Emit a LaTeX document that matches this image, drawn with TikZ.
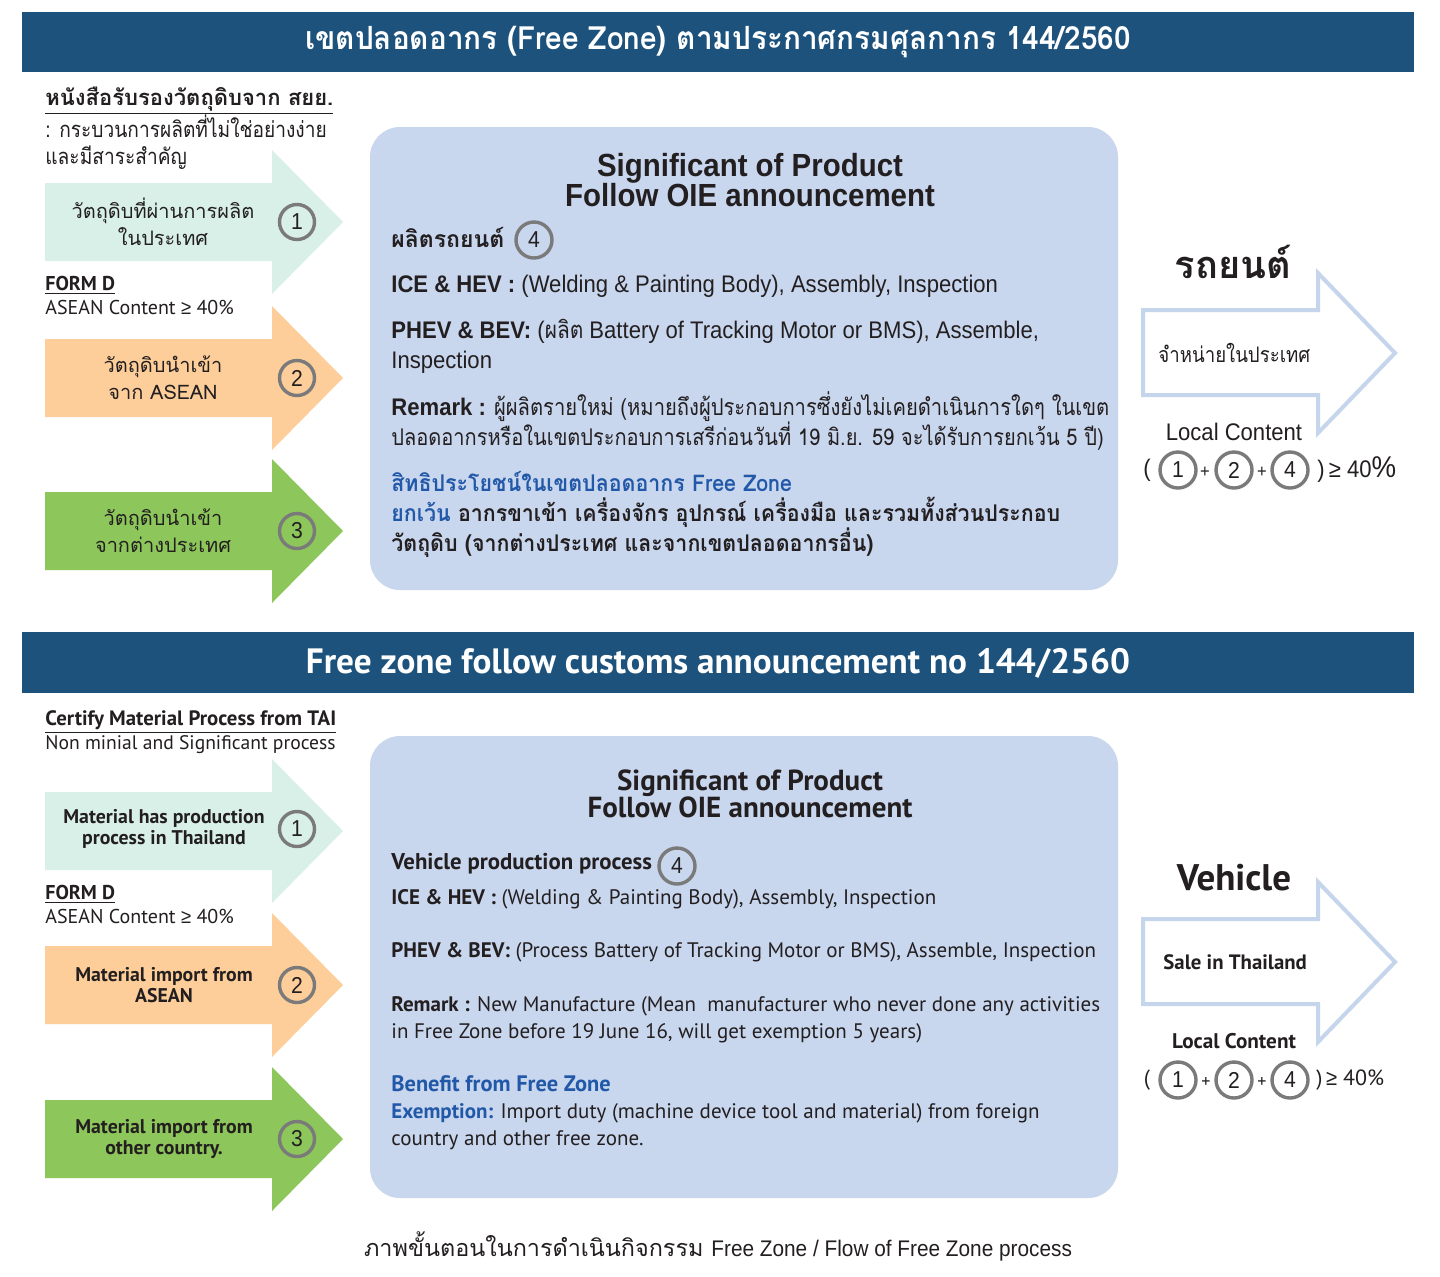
\documentclass[tikz,border=0pt]{standalone}
\usepackage{fontspec}
\setmainfont{Liberation Sans}
\newfontfamily\helv{Liberation Sans}[FakeStretch=0.92]
\newfontfamily\myri{PT Sans}
\newfontfamily\thai[Script=Thai, FakeStretch=0.87]{Loma}
\newfontfamily\thaib[Script=Thai, FakeStretch=0.93]{Loma}
\newfontfamily\thaiu[Script=Thai]{Loma}
\usepackage{xcolor}
\usetikzlibrary{positioning}

\definecolor{hdrblue}{HTML}{1C527C}
\definecolor{mint}{HTML}{D9F0E8}
\definecolor{peach}{HTML}{FDCE9A}
\definecolor{leaf}{HTML}{8DC65A}
\definecolor{boxblue}{HTML}{C8D6EE}
\definecolor{numgray}{HTML}{7A7A7A}
\definecolor{txtblue}{HTML}{2258A8}
\definecolor{outblue}{HTML}{C5D5EC}
\definecolor{ink}{HTML}{231F20}

\tikzset{
  hdrbar/.style={fill=hdrblue},
  hdrtext/.style={text=white, inner sep=0pt},
  numcirc/.style={circle, draw=numgray, line width=1.7pt, minimum size=17.5pt, inner sep=0pt,
    text=ink, font=\helv\fontsize{11.5}{12}\selectfont},
  txt/.style={anchor=base west, inner sep=0pt, text=ink},
  toptxt/.style={txt, font=\helv\fontsize{12}{14}\selectfont},
  bottxt/.style={txt, font=\myri\fontsize{10.5}{13}\selectfont},
  armtext/.style={align=center, inner sep=0pt, text=ink},
  outarrow/.style={draw=outblue, line width=2pt, fill=white}
}

\begin{document}
\begin{tikzpicture}[x=0.5pt, y=-0.5pt]
  \useasboundingbox (0,0) rectangle (1440,1276);
  \fill[white] (0,0) rectangle (1440,1276);

  % ----- Input arrows (both halves) -----
  \foreach \yc/\col in {222/mint, 378/peach, 531/leaf, 831/mint, 985/peach, 1139/leaf}
    \fill[\col] (45,\yc-39) -- (272,\yc-39) -- (272,\yc-72) -- (343,\yc)
      -- (272,\yc+72) -- (272,\yc+39) -- (45,\yc+39) -- cycle;

  % ----- Output arrows -----
  \draw[outarrow] (1143,310) -- (1318,310) -- (1318,273) -- (1395,353)
    -- (1318,433) -- (1318,395) -- (1143,395) -- cycle;
  \draw[outarrow] (1143,919) -- (1318,919) -- (1318,882) -- (1395,962)
    -- (1318,1042) -- (1318,1004) -- (1143,1004) -- cycle;

  % ----- Centre boxes -----
  \fill[boxblue, rounded corners=15pt] (370,127) rectangle (1118,590);
  \fill[boxblue, rounded corners=15pt] (370,736) rectangle (1118,1198);

  % ===== Top half: Thai =====
  \fill[hdrbar] (22,12) rectangle (1414,72);
  \node[hdrtext, font=\thaib\bfseries\fontsize{16}{18}\selectfont] (title1) at (718,42)
    {เขตปลอดอากร (Free Zone) ตามประกาศกรมศุลกากร 144/2560};

  \node[txt, font=\thaiu\bfseries\fontsize{11}{13}\selectfont] (cert1) at (45,105)
    {\underline{หนังสือรับรองวัตถุดิบจาก สยย.}};
  \node[txt, font=\thai\fontsize{11}{13}\selectfont] (cert1a) at (45,137) {: กระบวนการผลิตที่ไม่ใช่อย่างง่าย};
  \node[txt, font=\thai\fontsize{11}{13}\selectfont] (cert1b) at (45,164) {และมีสาระสำคัญ};

  \node[armtext, font=\thaiu\fontsize{10}{13.5}\selectfont] (in1) at (163,222) {วัตถุดิบที่ผ่านการผลิต\\ในประเทศ};
  \node[armtext, font=\thaiu\fontsize{10}{13.5}\selectfont] (in2) at (163,378) {วัตถุดิบนำเข้า\\จาก ASEAN};
  \node[armtext, font=\thaiu\fontsize{10}{13.5}\selectfont] (in3) at (163,531) {วัตถุดิบนำเข้า\\จากต่างประเทศ};
  \foreach \yc/\n in {222/1, 378/2, 531/3}
    \node[numcirc] (tn\n) at (297,\yc) {\n};

  \node[txt, font=\myri\bfseries\fontsize{10}{11}\selectfont] (formd1) at (45,290) {\underline{FORM D}};
  \node[txt, font=\myri\fontsize{10}{11}\selectfont] (asean1) at (45,314) {ASEAN Content {\helv ≥} 40\%};

  \node[align=center, inner sep=0pt, text=ink, font=\helv\bfseries\fontsize{16}{15}\selectfont] (sig1) at (750,180)
    {Significant of Product\\Follow OIE announcement};
  \node[txt, font=\thaiu\bfseries\fontsize{11.5}{14}\selectfont] (prod1) at (391,247) {ผลิตรถยนต์};
  \node[numcirc, minimum size=18pt] (p4) at (534,240) {4};
  \node[toptxt] (ice1) at (391,292) {\textbf{ICE \& HEV :} (Welding \& Painting Body), Assembly, Inspection};
  \node[toptxt] (phev1) at (391,338) {\textbf{PHEV \& BEV:} ({\thai ผลิต} Battery of Tracking Motor or BMS), Assemble,};
  \node[toptxt] (phev1b) at (391,368) {Inspection};
  \node[toptxt] (rem1) at (391,415) {\textbf{Remark :} {\thai\fontsize{11.6}{14}\selectfont ผู้ผลิตรายใหม่ (หมายถึงผู้ประกอบการซึ่งยังไม่เคยดำเนินการใดๆ ในเขต}};
  \node[toptxt, font=\thai\fontsize{11.5}{14}\selectfont] (rem1b) at (391,445)
    {ปลอดอากรหรือในเขตประกอบการเสรีก่อนวันที่ 19 มิ.ย. 59 จะได้รับการยกเว้น 5 ปี)};
  \node[txt, text=txtblue, font=\thaib\bfseries\fontsize{11.5}{14}\selectfont] (ben1) at (391,491)
    {สิทธิประโยชน์ในเขตปลอดอากร Free Zone};
  \node[txt, font=\thaib\bfseries\fontsize{11.5}{14}\selectfont] (exm1) at (391,521)
    {\textcolor{txtblue}{ยกเว้น} อากรขาเข้า เครื่องจักร อุปกรณ์ เครื่องมือ และรวมทั้งส่วนประกอบ};
  \node[txt, font=\thaib\bfseries\fontsize{11.5}{14}\selectfont] (exm1b) at (391,551)
    {วัตถุดิบ (จากต่างประเทศ และจากเขตปลอดอากรอื่น)};

  \node[inner sep=0pt, text=ink, font=\thaiu\bfseries\fontsize{19}{20}\selectfont] (car1) at (1233,262) {รถยนต์};
  \node[anchor=west, inner sep=0pt, text=ink, font=\thai\fontsize{10.7}{12}\selectfont] (sale1) at (1158,353) {จำหน่ายในประเทศ};
  \node[inner sep=0pt, text=ink, font=\helv\fontsize{12}{12}\selectfont] (lc1) at (1234,432) {Local Content};
  \node[inner sep=0pt, text=ink, font=\helv\fontsize{12}{12}\selectfont] (op1) at (1147,470) {(};
  \node[numcirc, minimum size=18pt] (f1a) at (1178,470) {1};
  \node[numcirc, minimum size=18pt] (f1b) at (1234,470) {2};
  \node[numcirc, minimum size=18pt] (f1c) at (1290,470) {4};
  \node[inner sep=0pt, text=ink, font=\helv\fontsize{9}{10}\selectfont] at (1205,472) {+};
  \node[inner sep=0pt, text=ink, font=\helv\fontsize{9}{10}\selectfont] at (1262,472) {+};
  \node[anchor=west, inner sep=0pt, text=ink, font=\helv\fontsize{12}{12}\selectfont] (cl1) at (1317,470)
    {)\,≥ 40{\fontsize{15}{15}\selectfont\%}};

  % ===== Bottom half: English =====
  \fill[hdrbar] (22,632) rectangle (1414,693);
  \node[hdrtext, font=\myri\bfseries\fontsize{17.6}{18}\selectfont] (title2) at (718,663)
    {Free zone follow customs announcement no 144/2560};

  \node[txt, font=\myri\bfseries\fontsize{10.4}{11}\selectfont] (cert2) at (45,725) {\underline{Certify Material Process from TAI}};
  \node[txt, font=\myri\fontsize{9.8}{11}\selectfont] (cert2a) at (45,749) {Non minial and Significant process};

  \node[armtext, font=\myri\bfseries\fontsize{9.9}{10.2}\selectfont] (in4) at (164,829) {Material has production\\process in Thailand};
  \node[armtext, font=\myri\bfseries\fontsize{9.9}{10.2}\selectfont] (in5) at (164,985) {Material import from\\ASEAN};
  \node[armtext, font=\myri\bfseries\fontsize{9.9}{10.2}\selectfont] (in6) at (164,1139) {Material import from\\other country.};
  \foreach \yc/\n in {829/1, 985/2, 1139/3}
    \node[numcirc] (bn\n) at (297,\yc) {\n};

  \node[txt, font=\myri\bfseries\fontsize{10}{11}\selectfont] (formd2) at (45,899) {\underline{FORM D}};
  \node[txt, font=\myri\fontsize{10}{11}\selectfont] (asean2) at (45,923) {ASEAN Content {\helv ≥} 40\%};

  \node[align=center, inner sep=0pt, text=ink, font=\myri\bfseries\fontsize{14.5}{13.5}\selectfont] (sig2) at (750,794)
    {Significant of Product\\Follow OIE announcement};
  \node[txt, font=\myri\bfseries\fontsize{11.4}{13}\selectfont] (prod2) at (391,869) {Vehicle production process};
  \node[numcirc, minimum size=18pt] (v4) at (677,866) {4};
  \node[bottxt] (ice2) at (391,904) {\textbf{ICE \& HEV :} (Welding \& Painting Body), Assembly, Inspection};
  \node[bottxt] (phev2) at (391,957) {\textbf{PHEV \& BEV:} (Process Battery of Tracking Motor or BMS), Assemble, Inspection};
  \node[bottxt] (rem2) at (391,1011) {\textbf{Remark :} New Manufacture (Mean\ \ manufacturer who never done any activities};
  \node[bottxt] (rem2b) at (391,1038) {in Free Zone before 19 June 16, will get exemption 5 years)};
  \node[bottxt, text=txtblue, font=\myri\bfseries\fontsize{11.2}{13}\selectfont] (ben2) at (391,1091) {Benefit from Free Zone};
  \node[bottxt] (exm2) at (391,1118) {\textcolor{txtblue}{\textbf{Exemption:}} Import duty (machine device tool and material) from foreign};
  \node[bottxt] (exm2b) at (391,1145) {country and other free zone.};

  \node[inner sep=0pt, text=ink, font=\myri\bfseries\fontsize{18.5}{19}\selectfont] (car2) at (1234,878) {Vehicle};
  \node[anchor=west, inner sep=0pt, text=ink, font=\myri\bfseries\fontsize{10.4}{12}\selectfont] (sale2) at (1163,962) {Sale in Thailand};
  \node[inner sep=0pt, text=ink, font=\myri\bfseries\fontsize{10.6}{12}\selectfont] (lc2) at (1234,1041) {Local Content};
  \node[inner sep=0pt, text=ink, font=\myri\fontsize{11}{12}\selectfont] (op2) at (1147,1080) {(};
  \node[numcirc, minimum size=18pt] (f2a) at (1178,1080) {1};
  \node[numcirc, minimum size=18pt] (f2b) at (1234,1080) {2};
  \node[numcirc, minimum size=18pt] (f2c) at (1290,1080) {4};
  \node[inner sep=0pt, text=ink, font=\myri\fontsize{9}{10}\selectfont] at (1206,1082) {+};
  \node[inner sep=0pt, text=ink, font=\myri\fontsize{9}{10}\selectfont] at (1262,1082) {+};
  \node[anchor=west, inner sep=0pt, text=ink, font=\myri\fontsize{11}{12}\selectfont] (cl2) at (1316,1080) {)\,{\helv ≥} 40\%};

  % ----- Caption -----
  \node[inner sep=0pt, text=ink, font=\thaiu\fontsize{11.7}{13}\selectfont] (cap) at (718,1246)
    {ภาพขั้นตอนในการดำเนินกิจกรรม {\helv\fontsize{11.3}{13}\selectfont Free Zone / Flow of Free Zone process}};
\end{tikzpicture}
\end{document}
